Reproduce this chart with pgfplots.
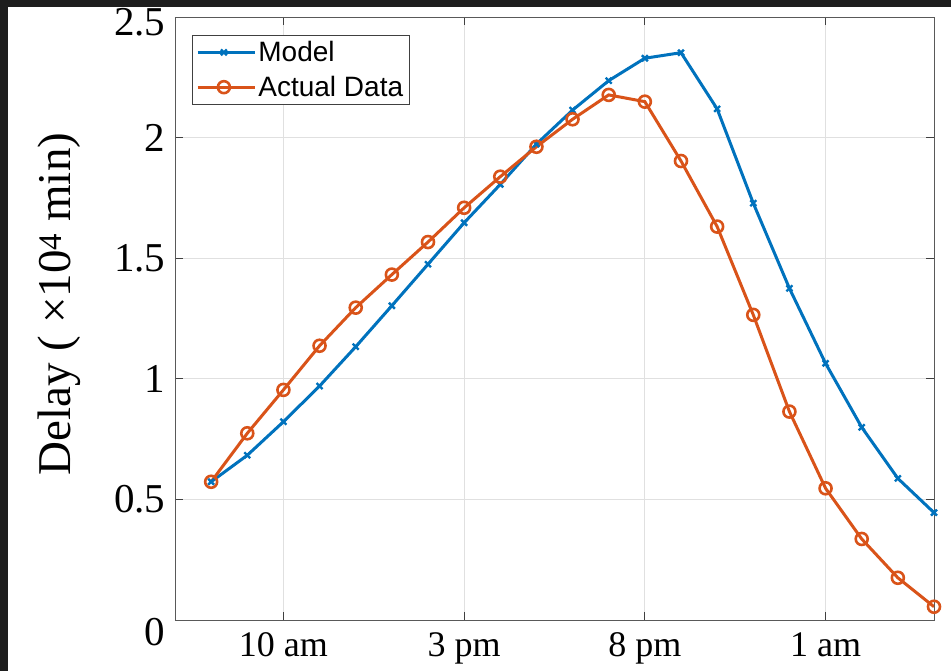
\documentclass[border=0pt]{standalone}
\usepackage{pgfplots}
\pgfplotsset{compat=1.18}
\usepackage{fontspec}
\setmainfont{Liberation Serif}
\newfontfamily\legfont{Liberation Sans}
\definecolor{mblue}{rgb}{0,0.447,0.741}
\definecolor{morange}{rgb}{0.85,0.325,0.098}
\definecolor{darkbg}{RGB}{30,30,30}
\begin{document}
\begin{tikzpicture}
\begin{axis}[
  at={(0,0)}, anchor=south west,
  scale only axis, width=759pt, height=603pt,
  xmin=7, xmax=28, ymin=0, ymax=2.5,
  xtick={10,15,20,25},
  xticklabels={10 am, 3 pm, 8 pm, 1 am},
  ytick={0,0.5,1,1.5,2,2.5},
  yticklabels={\raisebox{-12pt}[\height][\depth]{0},0.5,1,1.5,2,\raisebox{-5pt}[\height][\depth]{2.5}},
  /pgf/number format/assume math mode=true,
  tick align=inside,
  major tick length=8pt,
  tick style={black!75, line width=0.8pt},
  axis line style={black!65, line width=0.9pt},
  grid=major,
  major grid style={black!12, line width=0.8pt},
  xticklabel style={font=\fontsize{36}{36}\selectfont, yshift=-9pt},
  yticklabel style={font=\fontsize{41}{41}\selectfont, xshift=-6pt},
  ylabel={Delay ( ×10\textsuperscript{4} min)},
  ylabel style={font=\fontsize{47}{47}\selectfont, at={(axis description cs:-0.138,0.524)}, anchor=base, rotate=0},
  legend style={at={(axis description cs:0.0224,0.970)}, anchor=north west,
    font=\legfont\fontsize{28}{30}\selectfont, draw=black!75, line width=0.8pt,
    inner xsep=4pt, inner ysep=4pt, row sep=9pt},
  legend cell align=left,
  legend image code/.code={\draw[mark repeat=2,mark phase=2] plot coordinates {(0pt,0pt) (26pt,0pt) (52pt,0pt)};
    \path (0pt,0pt) -- (57pt,0pt);},
]
\addplot[mblue, line width=3pt, mark=x, mark size=4.2pt, mark options={line width=2.4pt}] coordinates {
(8,0.573) (9,0.683) (10,0.822) (11,0.970) (12,1.133) (13,1.303) (14,1.475)
(15,1.647) (16,1.806) (17,1.973) (18,2.114) (19,2.236) (20,2.329) (21,2.352)
(22,2.119) (23,1.728) (24,1.375) (25,1.064) (26,0.799) (27,0.587) (28,0.445)
};
\addlegendentry{Model}
\addplot[morange, line width=3pt, mark=o, mark size=6pt, mark options={line width=2.6pt}] coordinates {
(8,0.573) (9,0.774) (10,0.954) (11,1.137) (12,1.295) (13,1.432) (14,1.567)
(15,1.709) (16,1.838) (17,1.962) (18,2.076) (19,2.177) (20,2.149) (21,1.903)
(22,1.631) (23,1.265) (24,0.864) (25,0.546) (26,0.336) (27,0.175) (28,0.055)
};
\addlegendentry{Actual Data}
\end{axis}
\pgfresetboundingbox
\path[use as bounding box] (-175pt,-51pt) rectangle (776pt,620pt);
\fill[darkbg] (-175pt,613pt) rectangle (776pt,620pt);
\fill[darkbg] (-175pt,-51pt) rectangle (-167pt,620pt);
\end{tikzpicture}
\end{document}
